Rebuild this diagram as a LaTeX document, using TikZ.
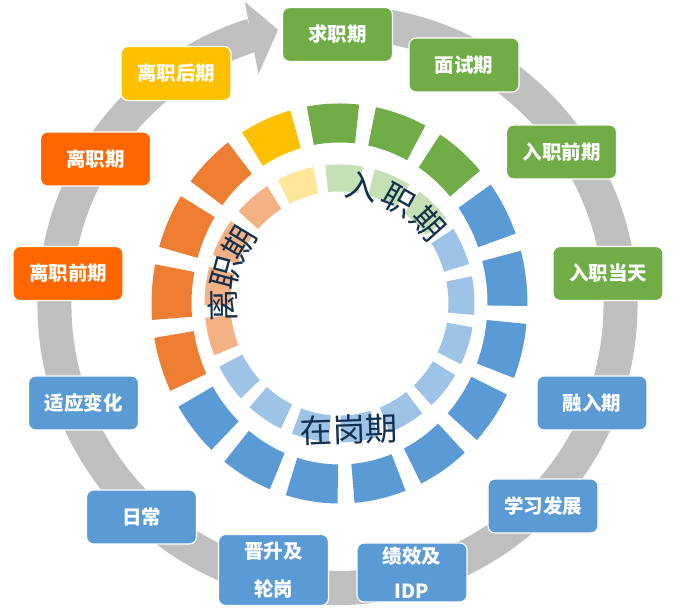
\documentclass[tikz,border=0pt]{standalone}
\usepackage{fontspec}
\newfontfamily\cjk{Noto Sans CJK SC}
\usetikzlibrary{positioning}
\definecolor{ringgray}{HTML}{BFBFBF}
\definecolor{leafgreen}{HTML}{70AD47}
\definecolor{skyblue}{HTML}{5B9BD5}
\definecolor{rustorange}{HTML}{ED7D31}
\definecolor{boxorange}{HTML}{FF6600}
\definecolor{sungold}{HTML}{FFC000}
\definecolor{palegreen}{HTML}{C5E0B4}
\definecolor{paleblue}{HTML}{9DC3E6}
\definecolor{paleorange}{HTML}{F4B183}
\definecolor{palegold}{HTML}{FFE699}
\definecolor{navyink}{HTML}{12304F}

\begin{document}
\begin{tikzpicture}[x=1pt, y=1pt,
  phasebox/.style={fill=#1, draw=white, line width=1.2pt, rounded corners=7pt,
    minimum width=110pt, minimum height=54pt, inner sep=0pt, text=white,
    align=center, font=\cjk\bfseries\fontsize{19.5}{23}\selectfont},
  arcword/.style={text=navyink, inner sep=0pt, font=\cjk\fontsize{32.5}{34}\selectfont}]
  % ── Canvas (677 × 612) ──────────────────────────────────────────────────
  \useasboundingbox (0,0) rectangle (677,612);
  \fill[white] (0,0) rectangle (677,612);

  % ── Grey cycle arrow (centre 337.5/307, r = 283, 34 wide) ───────────────
  \begin{scope}[shift={(337.5,307)}]
    \draw[ringgray, line width=34pt] (82:283pt)
      arc[start angle=82, end angle=-252.5, radius=283pt];
    \fill[ringgray] (107:317pt) -- (102.2:281.6pt) -- (108.9:244pt) -- cycle;
  \end{scope}

  % ── Segment rings (17 tiles, step 21.176 deg, tile 16 deg) ──────────────
  \begin{scope}[shift={(339.5,308.5)}]
    \foreach \outc/\innc [count=\k from 0] in {
      leafgreen/palegreen, leafgreen/palegreen, leafgreen/palegreen,
      skyblue/paleblue, skyblue/paleblue, skyblue/paleblue,
      skyblue/paleblue, skyblue/paleblue, skyblue/paleblue,
      skyblue/paleblue, skyblue/paleblue, skyblue/paleblue,
      rustorange/paleorange, rustorange/paleorange,
      rustorange/paleorange, rustorange/paleorange,
      sungold/palegold}{
      \pgfmathsetmacro{\oa}{92-21.176*\k-8}
      \pgfmathsetmacro{\ob}{92-21.176*\k+8}
      \pgfmathsetmacro{\ia}{88-21.176*\k-8}
      \pgfmathsetmacro{\ib}{88-21.176*\k+8}
      % outer tile
      \fill[\outc] (\oa:188pt and 200pt)
        arc[start angle=\oa, end angle=\ob, x radius=188pt, y radius=200pt]
        -- (\ob:148pt and 161pt)
        arc[start angle=\ob, end angle=\oa, x radius=148pt, y radius=161pt] -- cycle;
      % inner tile
      \fill[\innc] (\ia:135pt and 139pt)
        arc[start angle=\ia, end angle=\ib, x radius=135pt, y radius=139pt]
        -- (\ib:109pt and 112pt)
        arc[start angle=\ib, end angle=\ia, x radius=109pt, y radius=112pt] -- cycle;
    }

    % ── Curved phase names ────────────────────────────────────────────────
    \foreach \ch/\ang [count=\i] in {入/79, 职/60.5, 期/42}{
      \pgfmathsetmacro{\rot}{\ang-90}
      \node[arcword, rotate=\rot] (join\i) at (\ang:119pt) {\ch};
    }
    \foreach \ch/\ang [count=\i] in {离/181, 职/165, 期/149}{
      \pgfmathsetmacro{\rot}{\ang-90}
      \node[arcword, rotate=\rot] (leave\i) at (\ang:117pt) {\ch};
    }
  \end{scope}
  \node[arcword, rotate=2] (onjob) at (349,182) {在岗期};

  % ── Stage boxes round the arrow ─────────────────────────────────────────
  \node[phasebox=leafgreen] (seek)      at (337.5,577.5) {求职期};
  \node[phasebox=leafgreen] (interview) at (464,547)     {面试期};
  \node[phasebox=leafgreen] (preboard)  at (561.5,460)   {入职前期};
  \node[phasebox=leafgreen] (dayone)    at (608,338.5)   {入职当天};
  \node[phasebox=skyblue]   (blend)     at (592,209)     {融入期};
  \node[phasebox=skyblue]   (learn)     at (543,106)     {学习发展};
  \node[phasebox=skyblue, minimum height=59pt,
        font=\cjk\bfseries\fontsize{19.5}{35}\selectfont]
                            (review)    at (412,39.5)    {绩效及\\IDP};
  \node[phasebox=skyblue, minimum height=71pt,
        font=\cjk\bfseries\fontsize{19.5}{38}\selectfont]
                            (promote)   at (273.5,42)    {晋升及\\轮岗};
  \node[phasebox=skyblue]   (daily)     at (141.5,95)    {日常};
  \node[phasebox=skyblue]   (adapt)     at (83.5,209)    {适应变化};
  \node[phasebox=boxorange] (preexit)   at (68,338.5)    {离职前期};
  \node[phasebox=boxorange] (exit)      at (95.5,453)    {离职期};
  \node[phasebox=sungold]   (postexit)  at (176,538.5)   {离职后期};
\end{tikzpicture}
\end{document}
